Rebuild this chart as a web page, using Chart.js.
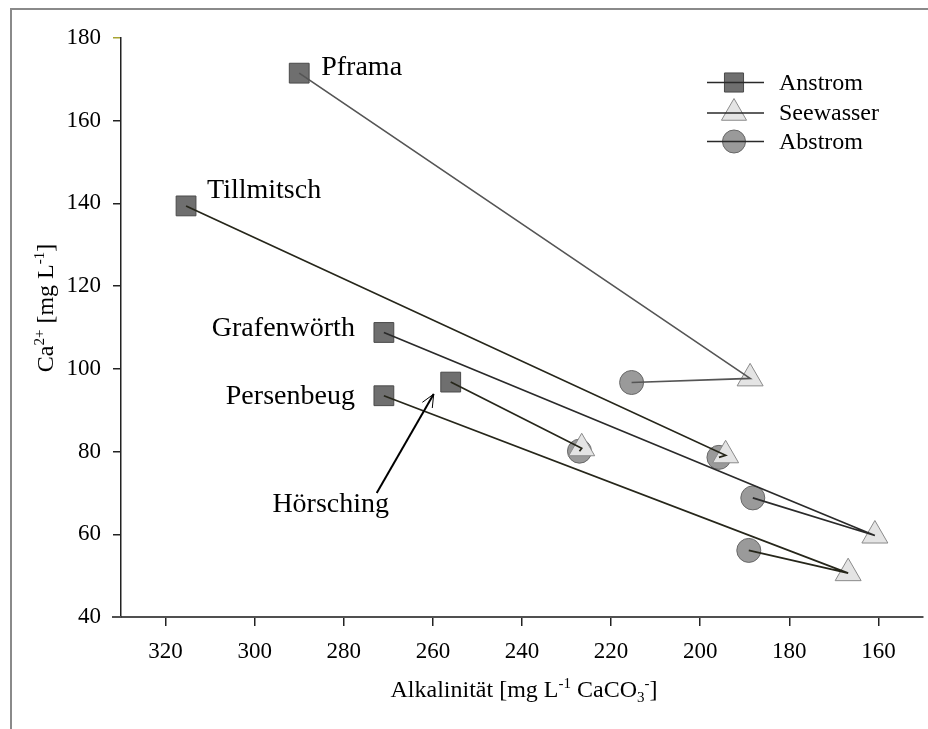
<!DOCTYPE html>
<html>
<head>
<meta charset="utf-8">
<script src="https://cdn.jsdelivr.net/npm/chart.js@4/dist/chart.umd.min.js"></script>
<style>
  html, body { margin: 0; padding: 0; background: #fff; overflow: hidden; }
  #wrap { position: relative; width: 928px; height: 729px; }
  #wrap canvas { position: absolute; left: 0; top: 0; }
  #frame { position: absolute; left: 10px; top: 8px; width: 960px; height: 800px;
           border-left: 2px solid #8a8a8a; border-top: 2px solid #8a8a8a; pointer-events: none; }
</style>
</head>
<body>
<div id="wrap">
  <canvas id="chart" width="928" height="729"></canvas>
  <div id="frame"></div>
</div>
<script>
// Sampling sites
const sites = ['Pframa', 'Tillmitsch', 'Grafenwörth', 'Hörsching', 'Persenbeug'];

// Inflow groundwater (Anstrom): alkalinity [mg/L CaCO3] and Ca2+ [mg/L]
const anstromAlk = [290.0, 315.4, 271.0, 256.0, 271.0];
const anstromCa  = [171.5, 139.4, 108.8, 96.8, 93.5];

// Lake water (Seewasser)
const seeAlk = [188.8, 194.3, 160.8, 226.6, 166.8];
const seeCa  = [97.7, 79.1, 59.7, 80.8, 50.6];

// Outflow groundwater (Abstrom)
const abAlk = [215.4, 195.8, 188.2, 227.1, 189.1];
const abCa  = [96.7, 78.6, 68.8, 80.1, 56.1];

// Axis ticks
const xTicks = [320, 300, 280, 260, 240, 220, 200, 180, 160];
const yTicks = [40, 60, 80, 100, 120, 140, 160, 180];

const legendLabels = ['Anstrom', 'Seewasser', 'Abstrom'];

// Styles
const FONT = '"Liberation Serif", "Times New Roman", serif';
const lineColors = ['#555555', '#26261a', '#2a2a2a', '#26261a', '#26261a'];
const markerStyles = [
  { pointStyle: 'rect',     radius: 14, fill: '#6f6f6f', stroke: '#4a4a4a' },
  { pointStyle: 'triangle', radius: 15, fill: '#e4e4e4', stroke: '#8a8a8a' },
  { pointStyle: 'circle',   radius: 12, fill: '#9a9a9a', stroke: '#686868' }
];

// Connecting lines per site: inflow -> lake -> outflow
const lineSets = sites.map((s, i) => ({
  type: 'line',
  label: s,
  data: [
    { x: anstromAlk[i], y: anstromCa[i] },
    { x: seeAlk[i], y: seeCa[i] },
    { x: abAlk[i], y: abCa[i] }
  ],
  borderColor: lineColors[i],
  borderWidth: 1.7,
  pointRadius: 0,
  fill: false,
  tension: 0,
  clip: false,
  order: 0
}));

function markerSet(label, xs, ys, st, order) {
  return {
    type: 'scatter',
    label: label,
    data: xs.map((x, i) => ({ x: x, y: ys[i] })),
    pointStyle: st.pointStyle,
    pointRadius: st.radius,
    pointHoverRadius: st.radius,
    pointBackgroundColor: st.fill,
    pointBorderColor: st.stroke,
    pointBorderWidth: 1,
    showLine: false,
    clip: false,
    order: order
  };
}

const datasets = [
  ...lineSets,
  markerSet(legendLabels[0], anstromAlk, anstromCa, markerStyles[0], 1),
  markerSet(legendLabels[1], seeAlk, seeCa, markerStyles[1], 2),
  markerSet(legendLabels[2], abAlk, abCa, markerStyles[2], 3)
];

// Text with super-/subscript segments, drawn from a baseline start point
function segFont(s, size) {
  const sz = (s.sup || s.sub) ? Math.round(size * 0.62) : size;
  return sz + 'px ' + FONT;
}
function richWidth(ctx, segs, size) {
  let w = 0;
  segs.forEach(s => { ctx.font = segFont(s, size); w += ctx.measureText(s.t).width; });
  return w;
}
function drawRich(ctx, segs, x, y, size) {
  let cx = x;
  segs.forEach(s => {
    ctx.font = segFont(s, size);
    const dy = s.sup ? -size * 0.38 : (s.sub ? size * 0.22 : 0);
    ctx.fillText(s.t, cx, y + dy);
    cx += ctx.measureText(s.t).width;
  });
}

const xTitle = [
  { t: 'Alkalinität [mg L' }, { t: '-1', sup: true }, { t: ' CaCO' },
  { t: '3', sub: true }, { t: '-', sup: true }, { t: ']' }
];
const yTitle = [
  { t: 'Ca' }, { t: '2+', sup: true }, { t: ' [mg L' }, { t: '-1', sup: true }, { t: ']' }
];

// Site labels placed next to the inflow marker (pixel offsets)
const labelPlacement = {
  'Pframa':      { align: 'left',   dx: 22,   dy: -6 },
  'Tillmitsch':  { align: 'left',   dx: 21,   dy: -15 },
  'Grafenwörth': { align: 'right',  dx: -29,  dy: -4 },
  'Persenbeug':  { align: 'right',  dx: -29,  dy: 1 },
  'Hörsching':   { align: 'center', dx: -120, dy: 123 }
};

const decorations = {
  id: 'decorations',
  afterDraw(chart) {
    const ctx = chart.ctx;
    const area = chart.chartArea;
    const xs = chart.scales.x, ys = chart.scales.y;
    ctx.save();

    // x axis line runs a little past the y axis
    ctx.strokeStyle = '#505050';
    ctx.lineWidth = 2;
    ctx.beginPath();
    ctx.moveTo(area.left - 9, area.bottom);
    ctx.lineTo(area.left, area.bottom);
    ctx.stroke();

    // site labels
    ctx.fillStyle = '#000';
    ctx.textBaseline = 'middle';
    ctx.font = '28px ' + FONT;
    sites.forEach((s, i) => {
      const p = labelPlacement[s];
      const px = xs.getPixelForValue(anstromAlk[i]);
      const py = ys.getPixelForValue(anstromCa[i]);
      ctx.textAlign = p.align;
      ctx.fillText(s, px + p.dx, py + p.dy);
    });

    // arrow pointing to Hörsching
    const hi = sites.indexOf('Hörsching');
    const hx = xs.getPixelForValue(anstromAlk[hi]);
    const hy = ys.getPixelForValue(anstromCa[hi]);
    const tail = { x: hx - 74, y: hy + 111 };
    const tip = { x: hx - 17, y: hy + 12 };
    ctx.strokeStyle = '#000';
    ctx.lineWidth = 2;
    ctx.beginPath();
    ctx.moveTo(tail.x, tail.y);
    ctx.lineTo(tip.x, tip.y);
    ctx.stroke();
    const ang = Math.atan2(tip.y - tail.y, tip.x - tail.x);
    ctx.lineWidth = 1;
    ctx.beginPath();
    ctx.moveTo(tip.x - 14 * Math.cos(ang - 0.42), tip.y - 14 * Math.sin(ang - 0.42));
    ctx.lineTo(tip.x, tip.y);
    ctx.lineTo(tip.x - 14 * Math.cos(ang + 0.42), tip.y - 14 * Math.sin(ang + 0.42));
    ctx.stroke();

    // legend: line through marker
    const lx0 = area.right - 216, lx1 = area.right - 159, mx = area.right - 189, tx = area.right - 144;
    const rows = [44.5, 75, 103.5];
    legendLabels.forEach((lab, k) => {
      const y = area.top + rows[k];
      const st = markerStyles[k];
      ctx.fillStyle = st.fill;
      ctx.strokeStyle = st.stroke;
      ctx.lineWidth = 1;
      Chart.helpers.drawPoint(ctx, { pointStyle: st.pointStyle, radius: st.radius - 0.5, rotation: 0, borderWidth: 1 }, mx, y);
      ctx.strokeStyle = '#2a2a2a';
      ctx.lineWidth = 1.6;
      ctx.beginPath();
      ctx.moveTo(lx0, y);
      ctx.lineTo(lx1, y);
      ctx.stroke();
      ctx.fillStyle = '#000';
      ctx.textAlign = 'left';
      ctx.textBaseline = 'middle';
      ctx.font = '24px ' + FONT;
      ctx.fillText(lab, tx, y + 1);
    });

    // axis titles
    ctx.fillStyle = '#000';
    ctx.textAlign = 'left';
    ctx.textBaseline = 'alphabetic';
    const size = 24;
    const wx = richWidth(ctx, xTitle, size);
    drawRich(ctx, xTitle, (area.left + area.right) / 2 - wx / 2 + 2, 697, size);

    const wy = richWidth(ctx, yTitle, size);
    ctx.translate(53, 308);
    ctx.rotate(-Math.PI / 2);
    drawRich(ctx, yTitle, -wy / 2, 0, size);
    ctx.restore();
  }
};

new Chart(document.getElementById('chart'), {
  data: { datasets: datasets },
  options: {
    responsive: false,
    animation: false,
    events: [],
    layout: { autoPadding: false, padding: { left: 0, top: 38, right: 5, bottom: 0 } },
    plugins: { legend: { display: false }, tooltip: { enabled: false } },
    scales: {
      x: {
        type: 'linear',
        reverse: true,
        min: 150,
        max: 330,
        afterBuildTicks: s => { s.ticks = xTicks.map(v => ({ value: v })); },
        afterFit: s => { s.height = 112; },
        ticks: {
          font: { family: FONT, size: 23 },
          color: '#000',
          padding: 12,
          maxRotation: 0,
          autoSkip: false
        },
        grid: { drawOnChartArea: false, tickLength: 9, color: '#222', lineWidth: 1.5 },
        border: { color: '#505050', width: 2 }
      },
      y: {
        type: 'linear',
        min: 40,
        max: 180,
        afterBuildTicks: s => { s.ticks = yTicks.map(v => ({ value: v })); },
        afterFit: s => { s.width = 121; },
        ticks: {
          font: { family: FONT, size: 23 },
          color: '#000',
          padding: 12,
          autoSkip: false
        },
        grid: {
          drawOnChartArea: false,
          tickLength: 8,
          lineWidth: 1.5,
          color: c => (c.tick && c.tick.value === 180) ? '#a7a432' : '#222'
        },
        border: { color: '#222', width: 1.5 }
      }
    }
  },
  plugins: [decorations]
});
</script>
</body>
</html>
